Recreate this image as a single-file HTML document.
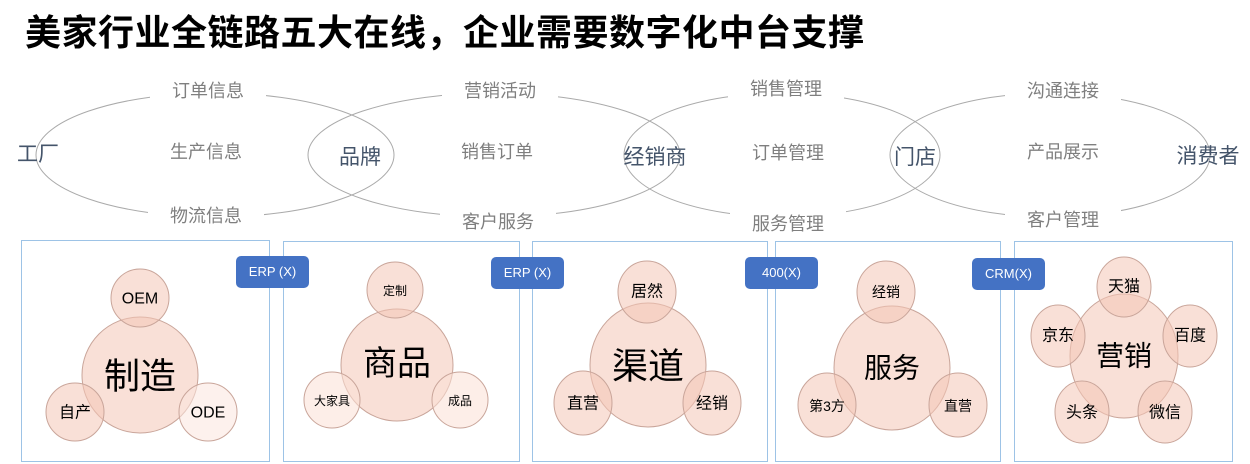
<!DOCTYPE html>
<html><head><meta charset="utf-8"><style>
body{margin:0;width:1250px;height:464px;background:#fff;overflow:hidden;position:relative;font-family:"Liberation Sans","Noto Sans CJK SC",sans-serif}
.t{position:absolute;white-space:nowrap}
.lab{position:absolute;transform:translate(-50%,-50%);background:#fff;color:#7f7f7f;font-size:18px;padding:2px 22px;white-space:nowrap}
.node{position:absolute;transform:translate(-50%,-50%);color:#44546a;font-size:21px;white-space:nowrap}
.box{position:absolute;border:1.5px solid #9dc3e6;box-sizing:border-box}
.bd{position:absolute;background:#4472c4;color:#fff;font-size:13px;border-radius:5px;text-align:center;line-height:32px;width:73px;height:32px}
</style></head><body>
<div class="t" style="left:25px;top:4px;font-size:36px;letter-spacing:0.5px;font-weight:bold;color:#000">美家行业全链路五大在线，企业需要数字化中台支撑</div>
<svg width="1250" height="464" style="position:absolute;left:0;top:0">
<g fill="none" stroke="#aaa" stroke-width="1">
<ellipse cx="215" cy="155" rx="179" ry="62"/>
<ellipse cx="494" cy="155" rx="186" ry="62"/>
<ellipse cx="782" cy="155" rx="158" ry="62"/>
<ellipse cx="1050" cy="155" rx="160" ry="62"/>
</g>
</svg>
<div class="lab" style="left:208px;top:90px">订单信息</div>
<div class="lab" style="left:206px;top:151px">生产信息</div>
<div class="lab" style="left:206px;top:215px">物流信息</div>
<div class="lab" style="left:500px;top:90px">营销活动</div>
<div class="lab" style="left:497px;top:151px">销售订单</div>
<div class="lab" style="left:498px;top:221px">客户服务</div>
<div class="lab" style="left:786px;top:88px">销售管理</div>
<div class="lab" style="left:788px;top:152px">订单管理</div>
<div class="lab" style="left:788px;top:223px">服务管理</div>
<div class="lab" style="left:1063px;top:90px">沟通连接</div>
<div class="lab" style="left:1063px;top:151px">产品展示</div>
<div class="lab" style="left:1063px;top:219px">客户管理</div>
<div class="node" style="left:38px;top:153px">工厂</div>
<div class="node" style="left:360px;top:156px">品牌</div>
<div class="node" style="left:655px;top:156px">经销商</div>
<div class="node" style="left:915px;top:156px">门店</div>
<div class="node" style="left:1208px;top:155px">消费者</div>

<div class="box" style="left:21px;top:240px;width:249px;height:222px"></div>
<div class="box" style="left:283px;top:241px;width:237px;height:221px"></div>
<div class="box" style="left:532px;top:241px;width:236px;height:221px"></div>
<div class="box" style="left:775px;top:241px;width:226px;height:221px"></div>
<div class="box" style="left:1014px;top:241px;width:219px;height:221px"></div>

<svg width="1250" height="464" style="position:absolute;left:0;top:0;font-family:'Liberation Sans','Noto Sans CJK SC',sans-serif">
<g stroke="#c9a59a" stroke-width="1" fill="#f4c7b6" fill-opacity="0.55" text-anchor="middle">
<circle cx="140" cy="375" r="58"/><circle cx="140" cy="298" r="29"/><circle cx="75" cy="412" r="29"/><circle cx="208" cy="412" r="29" fill="#fbe6df"/>
<circle cx="397" cy="365" r="56"/><circle cx="395" cy="290" r="28"/><circle cx="332" cy="400" r="28" fill="#fbe0d6"/><circle cx="460" cy="400" r="28" fill="#fbe0d6"/>
<ellipse cx="648" cy="365" rx="58" ry="62"/><ellipse cx="647" cy="292" rx="29" ry="31"/><ellipse cx="583" cy="403" rx="29" ry="32"/><ellipse cx="712" cy="403" rx="29" ry="32"/>
<ellipse cx="892" cy="368" rx="58" ry="62"/><ellipse cx="886" cy="292" rx="29" ry="31"/><ellipse cx="827" cy="405" rx="29" ry="32"/><ellipse cx="958" cy="405" rx="29" ry="32"/>
<ellipse cx="1124" cy="356" rx="54" ry="62"/><ellipse cx="1124" cy="287" rx="27" ry="30"/><ellipse cx="1058" cy="336" rx="27" ry="31"/><ellipse cx="1190" cy="336" rx="27" ry="31"/><ellipse cx="1082" cy="412" rx="27" ry="31"/><ellipse cx="1165" cy="412" rx="27" ry="31"/>
</g>
<g fill="#000" text-anchor="middle" dominant-baseline="central">
<text x="140" y="376" font-size="36">制造</text><text x="140" y="299" font-size="16">OEM</text><text x="75" y="413" font-size="16">自产</text><text x="208" y="413" font-size="16">ODE</text>
<text x="397" y="364" font-size="34">商品</text><text x="395" y="291" font-size="12">定制</text><text x="332" y="401" font-size="12">大家具</text><text x="460" y="401" font-size="12">成品</text>
<text x="648" y="366" font-size="36">渠道</text><text x="647" y="292" font-size="16">居然</text><text x="583" y="404" font-size="16">直营</text><text x="712" y="404" font-size="16">经销</text>
<text x="892" y="368" font-size="28">服务</text><text x="886" y="292" font-size="14">经销</text><text x="827" y="406" font-size="14">第3方</text><text x="958" y="406" font-size="14">直营</text>
<text x="1124" y="356" font-size="28">营销</text><text x="1124" y="287" font-size="16">天猫</text><text x="1058" y="336" font-size="16">京东</text><text x="1190" y="336" font-size="16">百度</text><text x="1082" y="413" font-size="16">头条</text><text x="1165" y="413" font-size="16">微信</text>
</g>
</svg>
<div class="bd" style="left:236px;top:256px">ERP (X)</div>
<div class="bd" style="left:491px;top:257px">ERP (X)</div>
<div class="bd" style="left:745px;top:257px">400(X)</div>
<div class="bd" style="left:972px;top:258px">CRM(X)</div>
</body></html>
